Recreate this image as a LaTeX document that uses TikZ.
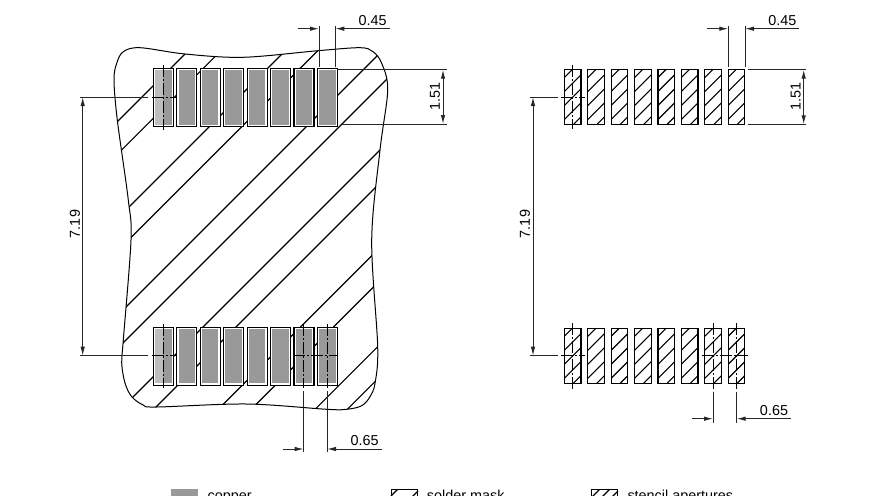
\documentclass[tikz,border=0pt]{standalone}
\usepackage{xcolor}
\usepackage{fontspec}
\setmainfont{Liberation Sans}
\usepackage{tikz}
\usetikzlibrary{shapes, arrows.meta, positioning}
\definecolor{Dimline}{gray}{0.15}
\definecolor{Copper}{gray}{0.6}
\definecolor{CopperLight}{gray}{0.74}
\def\BlobPath{plot[smooth cycle, tension=0.55] coordinates {(114,80) (116.7,63.3) (123.3,51.7) (140,47.7) (185,54) (243,57.3) (318,50.7) (360,47.7) (373,51.7) (381.7,63.3) (387.7,90) (380,150) (371.7,240) (377.7,346.7) (375,383.3) (370,396.7) (361.7,405.7) (346.7,409.3) (326.7,409.3) (246.7,404) (156.7,407) (143.3,405) (131.7,396.7) (125,383) (121.7,363) (123.3,340) (131,240) (128.3,200) (117.3,120)}}
\begin{document}
\begin{tikzpicture}
  [
    x=1pt, y=-1pt,
    PadOuter/.style={rectangle, draw=black, fill=white, line width=1.2pt, inner sep=0pt, outer sep=0pt, minimum width=20pt, minimum height=58pt},
    PadInner/.style={rectangle, fill=Copper, inner sep=0pt, outer sep=0pt, minimum width=16.5pt, minimum height=54.5pt},
    PadLight/.style={rectangle, fill=CopperLight, inner sep=0pt, outer sep=0pt, minimum width=8.2pt, minimum height=54.5pt},
    Stencil/.style={rectangle, draw=black, line width=1.2pt, inner sep=0pt, outer sep=0pt, minimum width=16.6pt, minimum height=55pt},
    Hatch/.style={draw=black, line width=1.1pt},
    Extension/.style={draw=Dimline, line width=1pt},
    Center/.style={draw=black, line width=0.7pt, dash pattern=on 12pt off 2pt on 2pt off 2pt},
    Arrow/.style={draw=Dimline, line width=1pt, -{Latex[length=9pt, width=4.5pt]}},
    Dim/.style={inner sep=0pt, text=black, font=\fontsize{14.4}{16}\selectfont},
    Legend/.style={inner sep=0pt, anchor=base west, text=black, font=\fontsize{14.4}{16}\selectfont}
  ]
  \useasboundingbox (0,0) rectangle (880,495);
  \clip (0,0) rectangle (880,495);

  % Solder mask outline and hatch
  \begin{scope}
    \clip \BlobPath;
    \foreach \c in {239,271.7,336,368.5,433,466,530,563,627.5,660.5,724.4,756.7}
      \draw[Hatch] (\c,0) -- (0,\c);
  \end{scope}
  \draw[black, line width=1pt] \BlobPath;

  % Copper pads
  \foreach \i in {0,...,7} {
    \node[PadOuter] (lt\i) at(163.3+23.45*\i, 97.3) {};
    \node[PadInner] (ltc\i) at(lt\i) {};
    \node[PadOuter] (lb\i) at(163.3+23.45*\i, 356.2) {};
    \node[PadInner] (lbc\i) at(lb\i) {};
  }
  \node[PadLight] (ltl) at(159.2, 97.3) {};
  \node[PadLight] (lbl) at(159.2, 356.2) {};

  % Stencil pads
  \foreach \i in {0,...,7} {
    \foreach \r/\ypos in {rt/97, rb/355.8} {
      \node[Stencil] (\r\i) at(572.7+23.4*\i, \ypos) {};
      \begin{scope}
        \clip (\r\i.north west) rectangle (\r\i.south east);
        \begin{scope}[shift={(\r\i.north west)}]
          \foreach \o in {8,22,36,50,64}
            \draw[Hatch] (\o,0) -- (0,\o);
        \end{scope}
      \end{scope}
    }
  }

  % Center lines
  \coordinate (c1) at(163.3,65); \coordinate (c2) at(163.3,130);
  \coordinate (c3) at(151.7,97.3); \coordinate (c4) at(176,97.3);
  \coordinate (c5) at(163.3,324); \coordinate (c6) at(163.3,388);
  \coordinate (c7) at(151.7,355.7); \coordinate (c8) at(176,355.7);
  \coordinate (c9) at(293,355.7); \coordinate (c10) at(338,355.7);
  \coordinate (c11) at(303.7,324); \coordinate (c12) at(303.7,388);
  \coordinate (c13) at(327,324); \coordinate (c14) at(327,388);
  \coordinate (d1) at(572.7,65); \coordinate (d2) at(572.7,129.3);
  \coordinate (d3) at(561,97); \coordinate (d4) at(585,97);
  \coordinate (d5) at(572.7,323.3); \coordinate (d6) at(572.7,389.3);
  \coordinate (d7) at(561,355.7); \coordinate (d8) at(585,355.7);
  \coordinate (d9) at(701.7,355.7); \coordinate (d10) at(748,355.7);
  \coordinate (d11) at(713,323.3); \coordinate (d12) at(713,389.3);
  \coordinate (d13) at(736.7,323.3); \coordinate (d14) at(736.7,389.3);
  \foreach \a/\b in {c1/c2,c3/c4,c5/c6,c7/c8,c9/c10,c11/c12,c13/c14,d1/d2,d3/d4,d5/d6,d7/d8,d9/d10,d11/d12,d13/d14}
    \path[Center] (\a) -- (\b);

  % Left dimensions
  \coordinate (a1) at(319,26); \coordinate (a2) at(319,67);
  \coordinate (a3) at(335.3,26); \coordinate (a4) at(335.3,67);
  \coordinate (a5) at(297.7,28.7); \coordinate (a6) at(319,28.7);
  \coordinate (a7) at(390,28.7); \coordinate (a8) at(335.3,28.7);
  \node[Dim] (w1) at(372.7,21) {0.45};
  \coordinate (a9) at(337,69.7); \coordinate (a10) at(446.7,69.7);
  \coordinate (a11) at(341.7,124); \coordinate (a12) at(446.7,124);
  \coordinate (a13) at(443,96.7); \coordinate (a14) at(443,69.7); \coordinate (a15) at(443,124);
  \node[Dim, rotate=90] (h1) at(435,96.7) {1.51};
  \coordinate (a16) at(80,97); \coordinate (a17) at(148.3,97);
  \coordinate (a18) at(80,355.7); \coordinate (a19) at(148.3,355.7);
  \coordinate (a20) at(82.7,226); \coordinate (a21) at(82.7,97); \coordinate (a22) at(82.7,355.7);
  \node[Dim, rotate=90] (p1) at(75,224) {7.19};
  \coordinate (a23) at(303.7,390.7); \coordinate (a24) at(303.7,451.7);
  \coordinate (a25) at(327,390.7); \coordinate (a26) at(327,451.7);
  \coordinate (a27) at(282.7,449); \coordinate (a28) at(303.7,449);
  \coordinate (a29) at(381.7,449); \coordinate (a30) at(327,449);
  \node[Dim] (q1) at(364.7,441) {0.65};

  % Right dimensions
  \coordinate (b1) at(728.3,26); \coordinate (b2) at(728.3,66.7);
  \coordinate (b3) at(745,26); \coordinate (b4) at(745,66.7);
  \coordinate (b5) at(707.3,28.7); \coordinate (b6) at(728.3,28.7);
  \coordinate (b7) at(799.3,28.7); \coordinate (b8) at(745,28.7);
  \node[Dim] (w2) at(782.3,21) {0.45};
  \coordinate (b9) at(748.3,69.7); \coordinate (b10) at(806,69.7);
  \coordinate (b11) at(748.3,124.3); \coordinate (b12) at(806,124.3);
  \coordinate (b13) at(803.7,97); \coordinate (b14) at(803.7,69.7); \coordinate (b15) at(803.7,124.3);
  \node[Dim, rotate=90] (h2) at(795.7,96.7) {1.51};
  \coordinate (b16) at(530,97); \coordinate (b17) at(558.3,97);
  \coordinate (b18) at(530,355.7); \coordinate (b19) at(558.3,355.7);
  \coordinate (b20) at(533,226); \coordinate (b21) at(533,97); \coordinate (b22) at(533,355.7);
  \node[Dim, rotate=90] (p2) at(525,224) {7.19};
  \coordinate (b23) at(713,391.7); \coordinate (b24) at(713,422.7);
  \coordinate (b25) at(736.7,391.7); \coordinate (b26) at(736.7,422.7);
  \coordinate (b27) at(692.3,418.7); \coordinate (b28) at(713,418.7);
  \coordinate (b29) at(791,418.7); \coordinate (b30) at(736.7,418.7);
  \node[Dim] (q2) at(774,411) {0.65};

  % Lines
  \foreach \a/\b in {a1/a2,a3/a4,a9/a10,a11/a12,a16/a17,a18/a19,a23/a24,a25/a26,
                     b1/b2,b3/b4,b9/b10,b11/b12,b16/b17,b18/b19,b23/b24,b25/b26}
    \path[Extension] (\a) -- (\b);
  \foreach \a/\b in {a5/a6,a7/a8,a13/a14,a13/a15,a20/a21,a20/a22,a27/a28,a29/a30,
                     b5/b6,b7/b8,b13/b14,b13/b15,b20/b21,b20/b22,b27/b28,b29/b30}
    \path[Arrow] (\a) -- (\b);

  % Legend
  \node[rectangle, fill=Copper, inner sep=0pt, minimum width=26.7pt, minimum height=22pt, anchor=north west] (k1) at(171,489) {};
  \node[Legend] (t1) at(207.5,500.5) {copper};
  \node[rectangle, draw=black, line width=1.1pt, inner sep=0pt, minimum width=26.3pt, minimum height=22pt, anchor=north west] (k2) at(390.7,489) {};
  \begin{scope}
    \clip (k2.north west) rectangle (k2.south east);
    \foreach \c in {398,420}
      \draw[Hatch] (\c,489) -- ++(-30,30);
  \end{scope}
  \node[Legend] (t2) at(426.7,500.5) {solder mask};
  \node[rectangle, draw=black, line width=1.1pt, inner sep=0pt, minimum width=26pt, minimum height=22pt, anchor=north west] (k3) at(590.7,489) {};
  \begin{scope}
    \clip (k3.north west) rectangle (k3.south east);
    \foreach \c in {600,610,620}
      \draw[Hatch] (\c,489) -- ++(-30,30);
  \end{scope}
  \node[Legend] (t3) at(627.3,500.5) {stencil apertures};
\end{tikzpicture}
\end{document}
